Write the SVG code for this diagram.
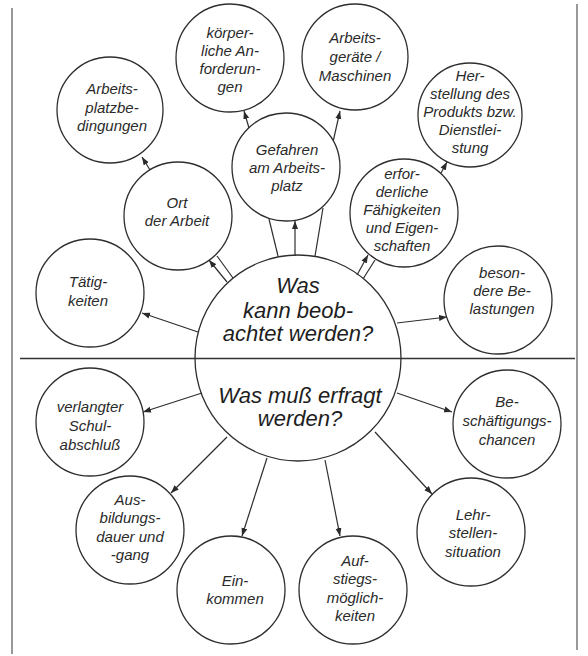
<svg xmlns="http://www.w3.org/2000/svg" width="588" height="656" viewBox="0 0 588 656">
<defs>
<marker id="ah" markerUnits="userSpaceOnUse" markerWidth="9" markerHeight="7" refX="8" refY="3.5" orient="auto">
<path d="M0,0.5 L8,3.5 L0,6.5 z" fill="#2a2a2a"/>
</marker>
<style>
.n{fill:#fff;stroke:#2e2e2e;stroke-width:1.3}
.t{font-family:"Liberation Sans",Arial,sans-serif;font-style:italic;font-size:15px;fill:#2a2a2a;text-anchor:middle}
.c{font-family:"Liberation Sans",Arial,sans-serif;font-style:italic;font-size:22px;fill:#1e1e1e;text-anchor:middle}
.e{fill:none;stroke:#2e2e2e;stroke-width:1.2}
.a{fill:none;stroke:#2e2e2e;stroke-width:1.2;marker-end:url(#ah)}
.b{fill:none;stroke:#555;stroke-width:1.2}
</style>
</defs>
<rect width="588" height="656" fill="#fff"/>
<g id="frame">
<line class="b" x1="12" y1="8" x2="12" y2="654"/>
<line class="b" x1="577" y1="4" x2="577" y2="650"/>
<line x1="20" y1="358.5" x2="575" y2="358.5" stroke="#333" stroke-width="1.5"/>
</g>
<g id="connectors">
<line class="a" x1="198" y1="332" x2="142" y2="313"/>
<line class="a" x1="397" y1="323" x2="447" y2="317"/>
<line class="a" x1="227" y1="282" x2="209" y2="260"/>
<line class="e" x1="233" y1="278" x2="217" y2="256"/>
<line class="e" x1="278" y1="256" x2="269" y2="219"/>
<line class="a" x1="295" y1="256" x2="295" y2="221"/>
<line class="e" x1="315" y1="256" x2="323" y2="208"/>
<line class="a" x1="357" y1="275" x2="368" y2="255"/>
<line class="e" x1="363" y1="279" x2="375" y2="260"/>
<line class="a" x1="249" y1="128" x2="244" y2="111"/>
<line class="a" x1="333" y1="142" x2="340" y2="111"/>
<line class="a" x1="150" y1="170" x2="142" y2="157"/>
<line class="a" x1="441" y1="173" x2="447" y2="162"/>
<line class="a" x1="202" y1="393" x2="143" y2="412"/>
<line class="a" x1="397" y1="393" x2="452" y2="412"/>
<line class="a" x1="227" y1="437" x2="171" y2="493"/>
<line class="a" x1="267" y1="458" x2="242" y2="536"/>
<line class="a" x1="325" y1="460" x2="340" y2="536"/>
<line class="a" x1="375" y1="432" x2="432" y2="494"/>
</g>
<g id="center">
<circle class="n" cx="298" cy="358" r="103" fill="none" style="fill:none"/>
<text class="c" x="298" y="293">Was</text>
<text class="c" x="298" y="318">kann beob-</text>
<text class="c" x="298" y="341">achtet werden?</text>
<text class="c" x="300" y="403">Was muß erfragt</text>
<text class="c" x="300" y="426">werden?</text>
</g>
<g id="koerperliche">
<circle class="n" cx="230" cy="58" r="54"/>
<text class="t" x="230" y="38">körper-</text>
<text class="t" x="230" y="56">liche An-</text>
<text class="t" x="230" y="74">forderun-</text>
<text class="t" x="230" y="92">gen</text>
</g>
<g id="arbeitsplatz">
<circle class="n" cx="110" cy="110" r="53"/>
<text class="t" x="112" y="94">Arbeits-</text>
<text class="t" x="112" y="112.5">platzbe-</text>
<text class="t" x="112" y="131">dingungen</text>
</g>
<g id="ort">
<circle class="n" cx="178" cy="216" r="54"/>
<text class="t" x="177" y="208">Ort</text>
<text class="t" x="177" y="226">der Arbeit</text>
</g>
<g id="gefahren">
<circle class="n" cx="286" cy="167" r="54"/>
<text class="t" x="287" y="155">Gefahren</text>
<text class="t" x="287" y="173">am Arbeits-</text>
<text class="t" x="287" y="191">platz</text>
</g>
<g id="geraete">
<circle class="n" cx="355" cy="57" r="53"/>
<text class="t" x="355" y="43">Arbeits-</text>
<text class="t" x="355" y="62">geräte /</text>
<text class="t" x="355" y="81">Maschinen</text>
</g>
<g id="herstellung">
<circle class="n" cx="470" cy="115" r="52"/>
<text class="t" x="470" y="81">Her-</text>
<text class="t" x="470" y="99">stellung des</text>
<text class="t" x="470" y="117">Produkts bzw.</text>
<text class="t" x="470" y="135">Dienstlei-</text>
<text class="t" x="470" y="153">stung</text>
</g>
<g id="faehigkeiten">
<circle class="n" cx="404" cy="213" r="54"/>
<text class="t" x="402" y="179">erfor-</text>
<text class="t" x="402" y="197">derliche</text>
<text class="t" x="402" y="215">Fähigkeiten</text>
<text class="t" x="402" y="233">und Eigen-</text>
<text class="t" x="402" y="251">schaften</text>
</g>
<g id="taetigkeiten">
<circle class="n" cx="90" cy="293" r="54"/>
<text class="t" x="88" y="287">Tätig-</text>
<text class="t" x="88" y="306">keiten</text>
</g>
<g id="belastungen">
<circle class="n" cx="498" cy="300" r="54"/>
<text class="t" x="502" y="278">beson-</text>
<text class="t" x="502" y="296">dere Be-</text>
<text class="t" x="502" y="314">lastungen</text>
</g>
<g id="schulabschluss">
<circle class="n" cx="90" cy="422" r="54"/>
<text class="t" x="90" y="412">verlangter</text>
<text class="t" x="90" y="431">Schul-</text>
<text class="t" x="90" y="450">abschluß</text>
</g>
<g id="beschaeftigung">
<circle class="n" cx="507" cy="424" r="54"/>
<text class="t" x="507" y="407">Be-</text>
<text class="t" x="507" y="426">schäftigungs-</text>
<text class="t" x="507" y="445">chancen</text>
</g>
<g id="ausbildung">
<circle class="n" cx="130" cy="530" r="54"/>
<text class="t" x="130" y="505">Aus-</text>
<text class="t" x="130" y="523">bildungs-</text>
<text class="t" x="130" y="542">dauer und</text>
<text class="t" x="130" y="560">-gang</text>
</g>
<g id="einkommen">
<circle class="n" cx="231" cy="590" r="54"/>
<text class="t" x="235" y="586">Ein-</text>
<text class="t" x="235" y="604">kommen</text>
</g>
<g id="aufstieg">
<circle class="n" cx="353" cy="590" r="54"/>
<text class="t" x="355" y="566">Auf-</text>
<text class="t" x="355" y="584">stiegs-</text>
<text class="t" x="355" y="603">möglich-</text>
<text class="t" x="355" y="621">keiten</text>
</g>
<g id="lehrstellen">
<circle class="n" cx="471" cy="532" r="54"/>
<text class="t" x="473" y="520">Lehr-</text>
<text class="t" x="473" y="538">stellen-</text>
<text class="t" x="473" y="557">situation</text>
</g>
</svg>
